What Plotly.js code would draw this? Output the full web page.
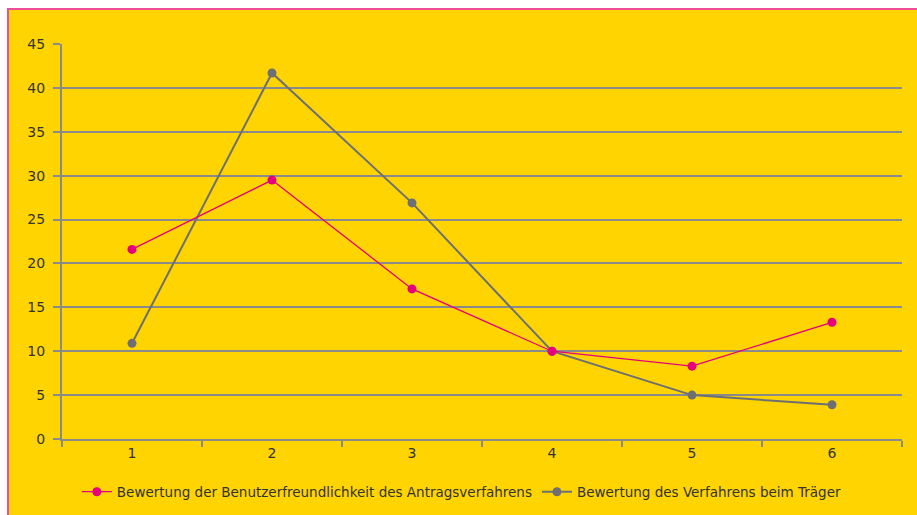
<!DOCTYPE html>
<html><head><meta charset="utf-8">
<script src="https://cdn.plot.ly/plotly-3.0.1.min.js"></script>
<style>
body{margin:0;background:#fff;width:917px;height:515px;overflow:hidden;position:relative;}
#frame{position:absolute;left:7px;top:8px;width:910px;height:507px;background:#FFD400;border-left:2px solid #EE4D9A;border-top:2px solid #EE4D9A;}
#chart{position:absolute;left:0;top:0;width:917px;height:515px;}
</style></head><body>
<div id="frame"></div>
<div id="chart"></div>
<script>
const categories = ["1","2","3","4","5","6"];
const benutzer = [21.6, 29.5, 17.1, 10.0, 8.3, 13.3];
const traeger = [10.9, 41.7, 26.9, 10.0, 5.0, 3.9];
const yTicks = [0,5,10,15,20,25,30,35,40,45];
const names = ["Bewertung der Benutzerfreundlichkeit des Antragsverfahrens","Bewertung des Verfahrens beim Träger"];

const data = [
 {x:categories, y:traeger, name:names[1], type:"scatter", mode:"lines+markers",
  line:{color:"#6E6F72", width:2}, marker:{color:"#6E6F72", size:9}, legendrank:2},
 {x:categories, y:benutzer, name:names[0], type:"scatter", mode:"lines+markers",
  line:{color:"#E6007E", width:1.3}, marker:{color:"#E6007E", size:9}, legendrank:1}
];
const font = {family:"DejaVu Sans, sans-serif", size:14, color:"#333333"};
const legFont = {family:"DejaVu Sans, sans-serif", size:13.5, color:"#333333"};
const lineCol = "#8A8A8A";
const layout = {
 width:917, height:515, autosize:false,
 margin:{l:62, r:15, t:44, b:76, pad:0, autoexpand:false},
 paper_bgcolor:"rgba(0,0,0,0)", plot_bgcolor:"rgba(0,0,0,0)",
 font:font,
 xaxis:{type:"category", range:[-0.5,5.5], tickson:"boundaries", ticks:"outside", ticklen:6,
   tickcolor:lineCol, tickwidth:2, showline:true, linecolor:lineCol, linewidth:2,
   showgrid:false, zeroline:false, tickfont:font, automargin:false},
 yaxis:{range:[0,45], tickvals:yTicks, ticks:"outside", ticklen:7, tickcolor:lineCol, tickwidth:2,
   showline:true, linecolor:lineCol, linewidth:2, showgrid:true, gridcolor:lineCol, gridwidth:2,
   zeroline:false, tickfont:font, ticklabelstandoff:5, automargin:false},
 showlegend:true,
 legend:{orientation:"h", x:0.476, xanchor:"center", y:-0.134, yanchor:"middle",
   font:legFont, bgcolor:"rgba(0,0,0,0)", itemwidth:30, tracegroupgap:0}
};
Plotly.newPlot("chart", data, layout, {displayModeBar:false, staticPlot:true});
</script></body></html>
